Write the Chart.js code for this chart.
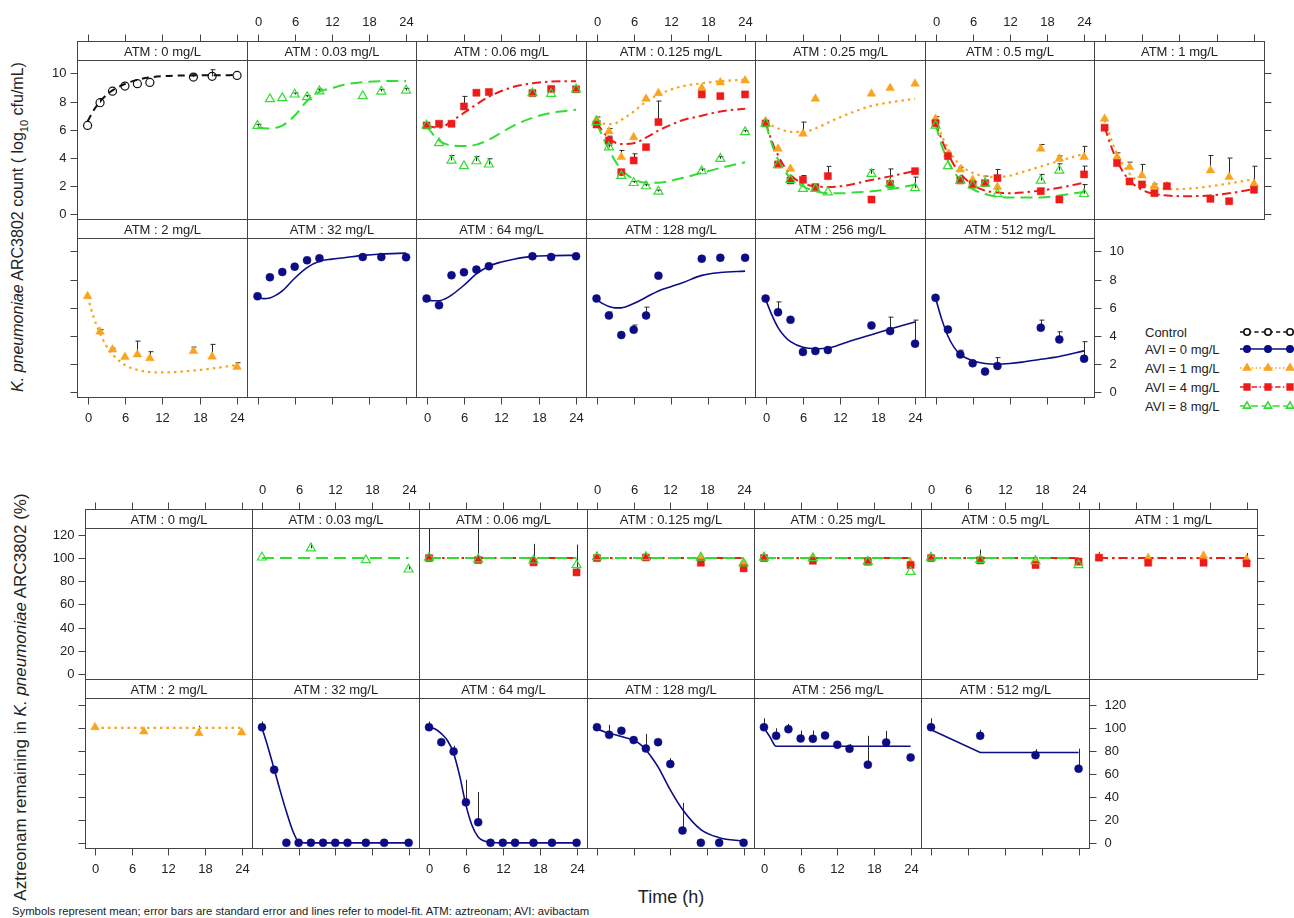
<!DOCTYPE html>
<html>
<head>
<meta charset="utf-8">
<title>Aztreonam / avibactam time-kill</title>
<script src="https://cdn.jsdelivr.net/npm/chart.js@4.4.1/dist/chart.umd.min.js"></script>
<style>
  html, body { margin: 0; padding: 0; background: #fff; }
  body { position: relative; width: 1294px; height: 918px; overflow: hidden;
         font-family: "Liberation Sans", Arial, sans-serif; color: #222; }
  canvas { position: absolute; }
  .txt { position: absolute; white-space: nowrap; line-height: 1; }
  .ytitle { position: absolute; white-space: nowrap; line-height: 1;
            transform: translate(-50%, -50%) rotate(-90deg); }
</style>
</head>
<body>
<div class="ytitle" style="left:20px; top:227px; font-size:16px"><i>K. pneumoniae</i> ARC3802 count ( log<sub style="font-size:11px">10</sub> cfu/mL)</div>
<div class="ytitle" style="left:20px; top:697px; font-size:17px">Aztreonam remaining in <i>K. pneumoniae</i> ARC3802 (%)</div>
<div class="txt" style="left:671px; top:897px; font-size:18px; transform:translate(-50%,-50%)">Time (h)</div>
<div class="txt" style="left:12px; top:906px; font-size:11.3px">Symbols represent mean; error bars are standard error and lines refer to model-fit. ATM: aztreonam; AVI: avibactam</div>
<div id="legend"></div>

<script>
// ---- time grids and ticks ----
const tObs = [0, 2, 4, 6, 8, 10, 17, 20, 24];
const tFit = [0, 1, 2, 3, 4, 6, 8, 10, 12, 14, 17, 20, 24];
const tPct = [0, 8, 17, 24];
const tPctFull = [0, 2, 4, 6, 8, 10, 12, 14, 17, 20, 24];
const tPctFit = [0, 1, 2, 3, 4, 5, 6, 7, 8, 9, 10, 12, 14, 17, 20, 24];
const tFlat = [0, 24];
const xTicks = [0, 6, 12, 18, 24];
const cfuTicks = [0, 2, 4, 6, 8, 10];
const pctTicks = [0, 20, 40, 60, 80, 100, 120];

const atmRow1 = ['0', '0.03', '0.06', '0.125', '0.25', '0.5', '1'];
const atmRow2 = ['2', '32', '64', '128', '256', '512'];

const legendLabels = ['Control', 'AVI = 0 mg/L', 'AVI = 1 mg/L', 'AVI = 4 mg/L', 'AVI = 8 mg/L'];
const legendKeys = ['ctrl', 'avi0', 'avi1', 'avi4', 'avi8'];

// ---- bacterial counts (log10 cfu/mL) at tObs, fits at tFit ----
const cfu0_ctrl = [6.31, 7.92, 8.74, 9.10, 9.27, 9.36, 9.74, 9.79, 9.86];
const se0_ctrl = [null, 0.3, null, null, null, null, 0.2, 0.47, null];
const fit0_ctrl = [6.6, 7.4, 8.0, 8.45, 8.8, 9.25, 9.55, 9.72, 9.8, 9.84, 9.86, 9.87, 9.88];

const cfu003_avi8 = [6.29, 8.18, 8.25, 8.51, 8.32, 8.74, 8.39, 8.72, 8.79];
const se003_avi8 = [0.1, null, null, 0.1, 0.1, 0.15, null, 0.15, 0.15];
const fit003_avi8 = [6.2, 6.12, 6.1, 6.15, 6.3, 7.0, 8.05, 8.7, 8.95, 9.2, 9.38, 9.45, 9.47];

const cfu006_avi4 = [6.31, 6.43, 6.43, 7.66, 8.63, 8.68, 8.6, 8.9, 8.87];
const se006_avi4 = [null, 0.15, 0.1, 0.71, null, null, null, 0.15, 0.1];
const fit006_avi4 = [6.3, 6.2, 6.15, 6.3, 6.6, 7.2, 7.8, 8.35, 8.75, 9.05, 9.3, 9.42, 9.45];
const cfu006_avi8 = [6.31, 5.06, 3.83, 3.43, 3.78, 3.55, 8.6, 8.56, 8.87];
const se006_avi8 = [null, null, 0.35, null, 0.33, 0.4, null, null, null];
const fit006_avi8 = [6.3, 5.7, 5.25, 5.0, 4.9, 4.85, 4.95, 5.3, 5.8, 6.3, 6.85, 7.2, 7.42];

const cfu0125_avi1 = [6.71, 5.89, 4.07, 5.48, 8.2, 8.6, 8.96, 9.36, 9.5];
const se0125_avi1 = [0.2, 0.2, 0.47, null, null, null, null, null, null];
const fit0125_avi1 = [6.6, 6.45, 6.4, 6.45, 6.7, 7.3, 8.0, 8.5, 8.85, 9.1, 9.3, 9.45, 9.55];
const cfu0125_avi4 = [6.38, 5.25, 3.0, 3.83, 4.77, 6.55, 8.51, 8.39, 8.51];
const se0125_avi4 = [null, 0.3, null, 0.47, null, 1.49, null, null, null];
const fit0125_avi4 = [6.5, 5.9, 5.4, 5.1, 5.0, 5.05, 5.45, 5.95, 6.35, 6.7, 7.0, 7.3, 7.5];
const cfu0125_avi8 = [6.55, 4.77, 2.74, 2.24, 2.01, 1.63, 3.07, 3.95, 5.84];
const se0125_avi8 = [0.1, 0.15, 0.1, 0.1, 0.1, 0.1, 0.15, 0.15, 0.1];
const fit0125_avi8 = [6.5, 5.5, 4.6, 3.8, 3.2, 2.5, 2.25, 2.25, 2.4, 2.6, 2.95, 3.3, 3.7];

const cfu025_avi1 = [6.6, 4.66, 3.24, 5.72, 8.2, null, 8.56, 8.96, 9.27];
const se025_avi1 = [null, null, null, 0.83, null, null, null, null, null];
const fit025_avi1 = [6.5, 6.3, 6.1, 5.95, 5.85, 5.85, 6.1, 6.5, 6.9, 7.25, 7.7, 7.95, 8.2];
const cfu025_avi4 = [6.45, 3.55, 2.41, 2.46, 1.94, 2.72, 1.06, 2.17, 3.07];
const se025_avi4 = [null, null, null, 0.3, null, 0.69, null, 1.06, null];
const fit025_avi4 = [6.5, 5.2, 4.2, 3.4, 2.8, 2.2, 2.0, 1.95, 2.0, 2.15, 2.45, 2.7, 3.1];
const cfu025_avi8 = [6.45, 3.5, 2.45, 1.82, 1.82, 1.58, 2.88, 2.17, 1.87];
const se025_avi8 = [null, null, null, null, null, null, 0.3, null, 0.78];
const fit025_avi8 = [6.5, 5.0, 3.9, 3.1, 2.6, 2.0, 1.65, 1.5, 1.5, 1.55, 1.65, 1.8, 2.1];

const cfu05_avi1 = [6.78, 4.3, 3.19, 2.46, 2.25, 1.94, 4.66, 3.95, 4.07];
const se05_avi1 = [0.15, null, 0.15, null, null, null, 0.3, 0.2, 0.76];
const fit05_avi1 = [6.7, 5.6, 4.7, 4.0, 3.5, 2.95, 2.7, 2.65, 2.75, 3.0, 3.4, 3.8, 4.3];
const cfu05_avi4 = [6.47, 4.14, 2.41, 2.13, 2.22, 2.58, 1.65, 1.06, 2.84];
const se05_avi4 = [null, null, null, 0.2, 0.5, 0.61, 0.2, null, 0.59];
const fit05_avi4 = [6.5, 5.3, 4.3, 3.5, 2.9, 2.1, 1.7, 1.55, 1.5, 1.55, 1.7, 1.9, 2.25];
const cfu05_avi8 = [6.3, 3.43, 2.41, 2.06, 2.2, 1.46, 2.41, 3.12, 1.46];
const se05_avi8 = [null, null, null, null, 0.2, null, 0.43, 0.47, 0.66];
const fit05_avi8 = [6.4, 4.9, 3.8, 3.0, 2.5, 1.8, 1.45, 1.25, 1.2, 1.2, 1.2, 1.35, 1.6];

const cfu1_avi1 = [6.78, 4.07, 3.36, 2.77, 2.01, 2.01, 3.12, 2.65, 2.17];
const se1_avi1 = [null, 0.3, 0.35, 0.78, 0.15, 0.15, 1.06, 1.35, 1.25];
const fit1_avi1 = [6.7, 5.4, 4.3, 3.5, 2.9, 2.2, 1.9, 1.8, 1.8, 1.85, 2.0, 2.2, 2.5];
const cfu1_avi4 = [6.15, 3.64, 2.34, 2.13, 1.51, 2.01, 1.11, 0.94, 1.75];
const fit1_avi4 = [6.2, 4.9, 3.8, 3.0, 2.4, 1.75, 1.45, 1.35, 1.3, 1.3, 1.35, 1.5, 1.8];

const cfu2_avi1 = [6.82, 4.31, 3.04, 2.52, 2.7, 2.42, 2.94, 2.54, 1.81];
const se2_avi1 = [null, 0.15, 0.1, null, 0.94, 0.47, 0.28, 0.87, 0.3];
const fit2_avi1 = [6.8, 5.3, 4.2, 3.3, 2.7, 1.95, 1.6, 1.45, 1.42, 1.45, 1.55, 1.7, 1.95];

const cfu32_avi0 = [6.82, 8.17, 8.54, 8.92, 9.37, 9.51, 9.6, 9.6, 9.58];
const fit32_avi0 = [6.8, 6.65, 6.7, 6.9, 7.2, 8.1, 8.85, 9.3, 9.45, 9.55, 9.72, 9.82, 9.88];

const cfu64_avi0 = [6.66, 6.19, 8.31, 8.52, 8.71, 8.95, 9.65, 9.6, 9.65];
const fit64_avi0 = [6.6, 6.5, 6.5, 6.65, 6.9, 7.6, 8.4, 8.95, 9.25, 9.45, 9.65, 9.7, 9.72];

const cfu128_avi0 = [6.66, 5.46, 4.07, 4.45, 5.46, 8.28, 9.48, 9.55, 9.55];
const se128_avi0 = [null, 0.24, null, 0.33, 0.59, null, null, null, null];
const fit128_avi0 = [6.6, 6.3, 6.1, 6.0, 6.0, 6.3, 6.75, 7.2, 7.5, 7.8, 8.3, 8.5, 8.6];

const cfu256_avi0 = [6.66, 5.69, 5.15, 2.87, 2.94, 3.01, 4.75, 4.35, 3.46];
const se256_avi0 = [null, 0.73, null, null, null, null, null, 0.99, 1.67];
const fit256_avi0 = [6.6, 5.5, 4.6, 4.0, 3.6, 3.2, 3.1, 3.15, 3.4, 3.7, 4.1, 4.5, 5.0];

const cfu512_avi0 = [6.71, 4.47, 2.7, 2.07, 1.48, 1.88, 4.59, 3.76, 2.4];
const se512_avi0 = [null, null, 0.3, null, null, 0.59, 0.54, 0.54, 1.2];
const fit512_avi0 = [6.7, 5.2, 4.0, 3.2, 2.7, 2.25, 2.05, 2.0, 2.05, 2.15, 2.35, 2.55, 2.95];

// ---- aztreonam remaining (%) ----
const fitFlat100 = [100, 100];

const pct003_avi8 = [100.6, 108.5, 98.3, 90.2];
const sep003_avi8 = [null, 4.3, null, 3];
const pct006_avi4 = [100, 98.3, 96.3, 87.6];
const sep006_avi4 = [30, 30, 16, 24];
const pct006_avi8 = [100.5, 99, 98, 94];
const pct0125_avi1 = [100.5, 101, 100, 96];
const pct0125_avi4 = [100, 100.5, 96, 91.1];
const pct0125_avi8 = [101, 101, 100.5, 95.4];
const pct025_avi1 = [100.5, 100, 97, 96];
const pct025_avi4 = [100, 97.7, 96.8, 94];
const pct025_avi8 = [100.5, 100, 97, 88.2];
const pct05_avi1 = [100.5, 98, 97, 96];
const pct05_avi4 = [100, 98, 94, 97];
const sep05_avi4 = [null, 9.3, null, null];
const pct05_avi8 = [100.5, 98.5, 97.5, 94];
const pct1_avi1 = [100.5, 100, 102, 99];
const pct1_avi4 = [100.4, 96, 96, 95.4];
const sep1_avi4 = [5, null, null, 9];
const pct2_avi1 = [100.6, 96.8, 95.4, 96];
const sep2_avi1 = [null, null, 6.4, null];

const pct32_avi0 = [100.6, 63.6, 0, 0, 0, 0, 0, 0, 0, 0, 0];
const sep32_avi0 = [5, null, null, null, null, null, null, null, null, null, null];
const fitp32_avi0 = [100, 83, 64, 45, 27, 11, 1, 0, 0, 0, 0, 0, 0, 0, 0, 0];
const pct64_avi0 = [100.6, 87.6, 79.5, 35.2, 17.9, 0, 0, 0, 0, 0, 0];
const sep64_avi0 = [5, null, 5, 19.7, 26.3, null, null, null, null, null, null];
const fitp64_avi0 = [100, 99, 95, 89, 78, 58, 33, 15, 5, 1.5, 0.5, 0, 0, 0, 0, 0];
const pct128_avi0 = [100.6, 94, 97.4, 89.4, 82.1, 87.6, 68.5, 10.7, 0, 0, 0];
const sep128_avi0 = [null, 8.7, null, null, 12.7, null, 5.2, 24, null, null, null];
const fitp128_avi0 = [99.5, 97, 95, 94, 92.5, 91, 89.5, 86, 81, 74, 66, 46, 29, 11.5, 4.5, 1.5];
const pct256_avi0 = [100.6, 93.1, 98.9, 90.8, 90.5, 93.4, 85.3, 81.8, 67.9, 87.3, 74.3];
const sep256_avi0 = [7.8, 6.6, 4.6, 6.9, 7.2, null, null, 4.3, 25.2, 10.1, null];
const fitp256_avi0 = [100, 92, 84, 84, 84, 84, 84, 84, 84, 84, 84, 84, 84, 84, 84, 84];
const pct512_avi0 = [100.6, 93.1, 76.3, 64.5];
const sep512_avi0 = [7.8, 5.2, 5.2, 17.4];
const fitp512_avi0 = [98.3, 78.6, 78.6, 78.6];

// ---- look ----
const STYLE = {
  ctrl: { color: '#111111', point: 'circle',   r: 4,   fill: false, dash: [7, 5],        lw: 2 },
  avi0: { color: '#0c0c85', point: 'circle',   r: 4,   fill: true,  dash: [],            lw: 1.6 },
  avi1: { color: '#f8a41c', point: 'triangle', r: 5,   fill: true,  dash: [2.5, 4],      lw: 2.2 },
  avi4: { color: '#ee1b1b', point: 'rect',     r: 5,   fill: true,  dash: [9, 4, 2.5, 4], lw: 2 },
  avi8: { color: '#33dd33', point: 'triangle', r: 5.2, fill: false, dash: [12, 6],       lw: 2 }
};
const ORDER = { avi8: 1, avi4: 2, avi1: 3, avi0: 4, ctrl: 4 };
const M = 40;
const FONT = '13px "Liberation Sans", Arial, sans-serif';

const figCfu = {
  cols: [77, 247, 416, 586, 755, 925, 1094, 1264],
  rows: [[41, 60, 219], [219, 238, 397]],
  rowLen: [7, 6],
  x: [-1.7, 25.6], y: [-0.32, 10.95], yTicks: cfuTicks, cap: 2
};
const figPct = {
  cols: [85, 252, 419, 587, 754, 921, 1089, 1257],
  rows: [[509, 528, 679], [679, 698, 848]],
  rowLen: [7, 6],
  x: [-1.63, 25.7], y: [-4.5, 126], yTicks: pctTicks, cap: 0
};

function ser(key, t, y, se, tf, fit) { return { key, t, y, se, tf, fit }; }

const cfuPanels = [
  { r: 0, c: 0, s: [ser('ctrl', tObs, cfu0_ctrl, se0_ctrl, tFit, fit0_ctrl)] },
  { r: 0, c: 1, s: [ser('avi8', tObs, cfu003_avi8, se003_avi8, tFit, fit003_avi8)] },
  { r: 0, c: 2, s: [ser('avi4', tObs, cfu006_avi4, se006_avi4, tFit, fit006_avi4),
                    ser('avi8', tObs, cfu006_avi8, se006_avi8, tFit, fit006_avi8)] },
  { r: 0, c: 3, s: [ser('avi1', tObs, cfu0125_avi1, se0125_avi1, tFit, fit0125_avi1),
                    ser('avi4', tObs, cfu0125_avi4, se0125_avi4, tFit, fit0125_avi4),
                    ser('avi8', tObs, cfu0125_avi8, se0125_avi8, tFit, fit0125_avi8)] },
  { r: 0, c: 4, s: [ser('avi1', tObs, cfu025_avi1, se025_avi1, tFit, fit025_avi1),
                    ser('avi4', tObs, cfu025_avi4, se025_avi4, tFit, fit025_avi4),
                    ser('avi8', tObs, cfu025_avi8, se025_avi8, tFit, fit025_avi8)] },
  { r: 0, c: 5, s: [ser('avi1', tObs, cfu05_avi1, se05_avi1, tFit, fit05_avi1),
                    ser('avi4', tObs, cfu05_avi4, se05_avi4, tFit, fit05_avi4),
                    ser('avi8', tObs, cfu05_avi8, se05_avi8, tFit, fit05_avi8)] },
  { r: 0, c: 6, s: [ser('avi1', tObs, cfu1_avi1, se1_avi1, tFit, fit1_avi1),
                    ser('avi4', tObs, cfu1_avi4, null, tFit, fit1_avi4)] },
  { r: 1, c: 0, s: [ser('avi1', tObs, cfu2_avi1, se2_avi1, tFit, fit2_avi1)] },
  { r: 1, c: 1, s: [ser('avi0', tObs, cfu32_avi0, null, tFit, fit32_avi0)] },
  { r: 1, c: 2, s: [ser('avi0', tObs, cfu64_avi0, null, tFit, fit64_avi0)] },
  { r: 1, c: 3, s: [ser('avi0', tObs, cfu128_avi0, se128_avi0, tFit, fit128_avi0)] },
  { r: 1, c: 4, s: [ser('avi0', tObs, cfu256_avi0, se256_avi0, tFit, fit256_avi0)] },
  { r: 1, c: 5, s: [ser('avi0', tObs, cfu512_avi0, se512_avi0, tFit, fit512_avi0)] }
];

const pctPanels = [
  { r: 0, c: 0, s: [] },
  { r: 0, c: 1, s: [ser('avi8', tPct, pct003_avi8, sep003_avi8, tFlat, fitFlat100)] },
  { r: 0, c: 2, s: [ser('avi4', tPct, pct006_avi4, sep006_avi4, tFlat, fitFlat100),
                    ser('avi8', tPct, pct006_avi8, null, tFlat, fitFlat100)] },
  { r: 0, c: 3, s: [ser('avi1', tPct, pct0125_avi1, null, tFlat, fitFlat100),
                    ser('avi4', tPct, pct0125_avi4, null, tFlat, fitFlat100),
                    ser('avi8', tPct, pct0125_avi8, null, tFlat, fitFlat100)] },
  { r: 0, c: 4, s: [ser('avi1', tPct, pct025_avi1, null, tFlat, fitFlat100),
                    ser('avi4', tPct, pct025_avi4, null, tFlat, fitFlat100),
                    ser('avi8', tPct, pct025_avi8, null, tFlat, fitFlat100)] },
  { r: 0, c: 5, s: [ser('avi1', tPct, pct05_avi1, null, tFlat, fitFlat100),
                    ser('avi4', tPct, pct05_avi4, sep05_avi4, tFlat, fitFlat100),
                    ser('avi8', tPct, pct05_avi8, null, tFlat, fitFlat100)] },
  { r: 0, c: 6, s: [ser('avi1', tPct, pct1_avi1, null, tFlat, fitFlat100),
                    ser('avi4', tPct, pct1_avi4, sep1_avi4, tFlat, fitFlat100)] },
  { r: 1, c: 0, s: [ser('avi1', tPct, pct2_avi1, sep2_avi1, tFlat, fitFlat100)] },
  { r: 1, c: 1, s: [ser('avi0', tPctFull, pct32_avi0, sep32_avi0, tPctFit, fitp32_avi0)] },
  { r: 1, c: 2, s: [ser('avi0', tPctFull, pct64_avi0, sep64_avi0, tPctFit, fitp64_avi0)] },
  { r: 1, c: 3, s: [ser('avi0', tPctFull, pct128_avi0, sep128_avi0, tPctFit, fitp128_avi0)] },
  { r: 1, c: 4, s: [ser('avi0', tPctFull, pct256_avi0, sep256_avi0, tPctFit, fitp256_avi0)] },
  { r: 1, c: 5, s: [ser('avi0', tPct, pct512_avi0, sep512_avi0, tPct, fitp512_avi0)] }
];

// strip, frame, ticks and error bars for one lattice panel
const panelFrame = {
  id: 'panelFrame',
  beforeDatasetsDraw(chart, args, o) {
    const { ctx, chartArea: a, scales: { x, y } } = chart;
    ctx.save();
    ctx.beginPath();
    ctx.rect(a.left, a.top, a.right - a.left, a.bottom - a.top);
    ctx.clip();
    ctx.strokeStyle = '#2a2a2a';
    ctx.lineWidth = 1;
    chart.data.datasets.forEach(ds => {
      if (!ds.isPoints) return;
      ds.data.forEach(p => {
        if (p.se == null) return;
        const px = Math.round(x.getPixelForValue(p.x)) + 0.5;
        const y0 = y.getPixelForValue(p.y), y1 = y.getPixelForValue(p.y + p.se);
        ctx.beginPath();
        ctx.moveTo(px, y0);
        ctx.lineTo(px, y1);
        if (o.cap) { ctx.moveTo(px - o.cap, y1); ctx.lineTo(px + o.cap + 1, y1); }
        ctx.stroke();
      });
    });
    ctx.restore();
  },
  afterDraw(chart, args, o) {
    const { ctx, chartArea: a, scales: { x, y } } = chart;
    const l = a.left + 0.5, r = a.right + 0.5, t = a.top + 0.5, b = a.bottom + 0.5;
    const st = t - o.strip;
    ctx.save();
    ctx.strokeStyle = '#444';
    ctx.lineWidth = 1;
    ctx.setLineDash([]);
    ctx.strokeRect(l, st, r - l, b - st);
    ctx.beginPath(); ctx.moveTo(l, t); ctx.lineTo(r, t); ctx.stroke();

    ctx.fillStyle = '#222';
    ctx.font = FONT;
    ctx.textAlign = 'center';
    ctx.textBaseline = 'middle';
    ctx.fillText(o.label, (l + r) / 2, (st + t) / 2 + 1);

    const seg = (x1, y1, x2, y2) => { ctx.beginPath(); ctx.moveTo(x1, y1); ctx.lineTo(x2, y2); ctx.stroke(); };
    o.xTicks.forEach(v => {
      const px = Math.round(x.getPixelForValue(v)) + 0.5;
      if (o.top) {
        seg(px, st, px, st - 7);
        if (o.topLab) ctx.fillText(String(v), px, st - 19);
      }
      if (o.bottom) {
        seg(px, b, px, b + 7);
        if (o.bottomLab) ctx.fillText(String(v), px, b + 21);
      }
    });
    o.yTicks.forEach(v => {
      const py = Math.round(y.getPixelForValue(v)) + 0.5;
      if (o.left) {
        seg(l, py, l - 7, py);
        if (o.leftLab) { ctx.textAlign = 'right'; ctx.fillText(String(v), l - 11, py); }
      }
      if (o.right) {
        seg(r, py, r + 7, py);
        if (o.rightLab) { ctx.textAlign = 'left'; ctx.fillText(String(v), r + 15, py); }
      }
    });
    ctx.restore();
  }
};

function buildDatasets(series) {
  const sets = [];
  series.forEach(s => {
    const st = STYLE[s.key];
    sets.push({
      isPoints: true,
      data: s.t.map((t, i) => ({ x: t, y: s.y[i], se: s.se ? s.se[i] : null })).filter(p => p.y != null),
      showLine: false,
      pointStyle: st.point,
      pointRadius: st.r,
      pointBackgroundColor: st.fill ? st.color : 'rgba(0,0,0,0)',
      pointBorderColor: st.color,
      pointBorderWidth: st.fill ? 0.5 : 1.2,
      order: ORDER[s.key]
    });
    // short fits (few knots) are straight segments; dense fits are smoothed
    const dense = s.tf.length > 6;
    sets.push({
      data: s.tf.map((t, i) => ({ x: t, y: s.fit[i] })),
      showLine: true,
      borderColor: st.color,
      borderWidth: st.lw,
      borderDash: st.dash,
      cubicInterpolationMode: dense ? 'monotone' : 'default',
      tension: 0,
      pointRadius: 0,
      fill: false,
      order: 10 + ORDER[s.key]
    });
  });
  return sets;
}

function addPanel(fig, p, labels) {
  const [stripTop, top, bottom] = fig.rows[p.r];
  const left = fig.cols[p.c], right = fig.cols[p.c + 1];
  const w = right - left, h = bottom - top, strip = top - stripTop;
  const cv = document.createElement('canvas');
  cv.width = w + 2 * M;
  cv.height = h + strip + 2 * M;
  cv.style.left = (left - M) + 'px';
  cv.style.top = (stripTop - M) + 'px';
  cv.style.width = cv.width + 'px';
  cv.style.height = cv.height + 'px';
  document.body.appendChild(cv);
  const lastCol = fig.rowLen[p.r] - 1;
  new Chart(cv, {
    type: 'scatter',
    data: { datasets: buildDatasets(p.s) },
    options: {
      responsive: false,
      animation: false,
      devicePixelRatio: 1,
      events: [],
      layout: { padding: { left: M, right: M, top: M + strip, bottom: M } },
      scales: {
        x: { type: 'linear', min: fig.x[0], max: fig.x[1], display: false },
        y: { type: 'linear', min: fig.y[0], max: fig.y[1], display: false }
      },
      plugins: {
        legend: { display: false },
        tooltip: { enabled: false },
        panelFrame: {
          label: 'ATM : ' + labels[p.r][p.c] + ' mg/L',
          strip: strip,
          cap: fig.cap,
          xTicks: xTicks,
          yTicks: fig.yTicks,
          top: p.r === 0, topLab: p.r === 0 && p.c % 2 === 1,
          bottom: p.r === 1, bottomLab: p.r === 1 && p.c % 2 === 0,
          left: p.c === 0, leftLab: p.c === 0 && p.r === 0,
          right: p.c === lastCol, rightLab: p.c === lastCol && p.r === 1
        }
      }
    },
    plugins: [panelFrame]
  });
}

const stripLabels = [atmRow1, atmRow2];
cfuPanels.forEach(p => addPanel(figCfu, p, stripLabels));
pctPanels.forEach(p => addPanel(figPct, p, stripLabels));

// legend (key symbols + text)
const legendY = [332, 349, 368, 387, 406];
const lg = document.getElementById('legend');
legendLabels.forEach((txt, i) => {
  const d = document.createElement('div');
  d.className = 'txt';
  d.style.cssText = 'left:1145px; top:' + legendY[i] + 'px; font-size:13px; transform:translateY(-50%)';
  d.textContent = txt;
  lg.appendChild(d);
});
const kc = document.createElement('canvas');
kc.width = 64; kc.height = 100;
kc.style.left = '1236px'; kc.style.top = '320px';
kc.style.width = '64px'; kc.style.height = '100px';
document.body.appendChild(kc);
const kx = kc.getContext('2d');
legendKeys.forEach((key, i) => {
  const st = STYLE[key];
  const yy = legendY[i] - 320;
  kx.save();
  kx.strokeStyle = st.color;
  kx.lineWidth = Math.min(st.lw, 1.6);
  kx.setLineDash(st.dash.map(v => v * 0.6));
  kx.beginPath(); kx.moveTo(4, yy); kx.lineTo(64, yy); kx.stroke();
  kx.setLineDash([]);
  [11, 32, 54].forEach(px => {
    kx.fillStyle = st.fill ? st.color : '#fff';
    kx.strokeStyle = st.color;
    Chart.helpers.drawPoint(kx, { pointStyle: st.point, radius: st.r * 0.8, rotation: 0, borderWidth: st.fill ? 0.5 : 1.1 }, px, yy);
  });
  kx.restore();
});
</script>
</body>
</html>
